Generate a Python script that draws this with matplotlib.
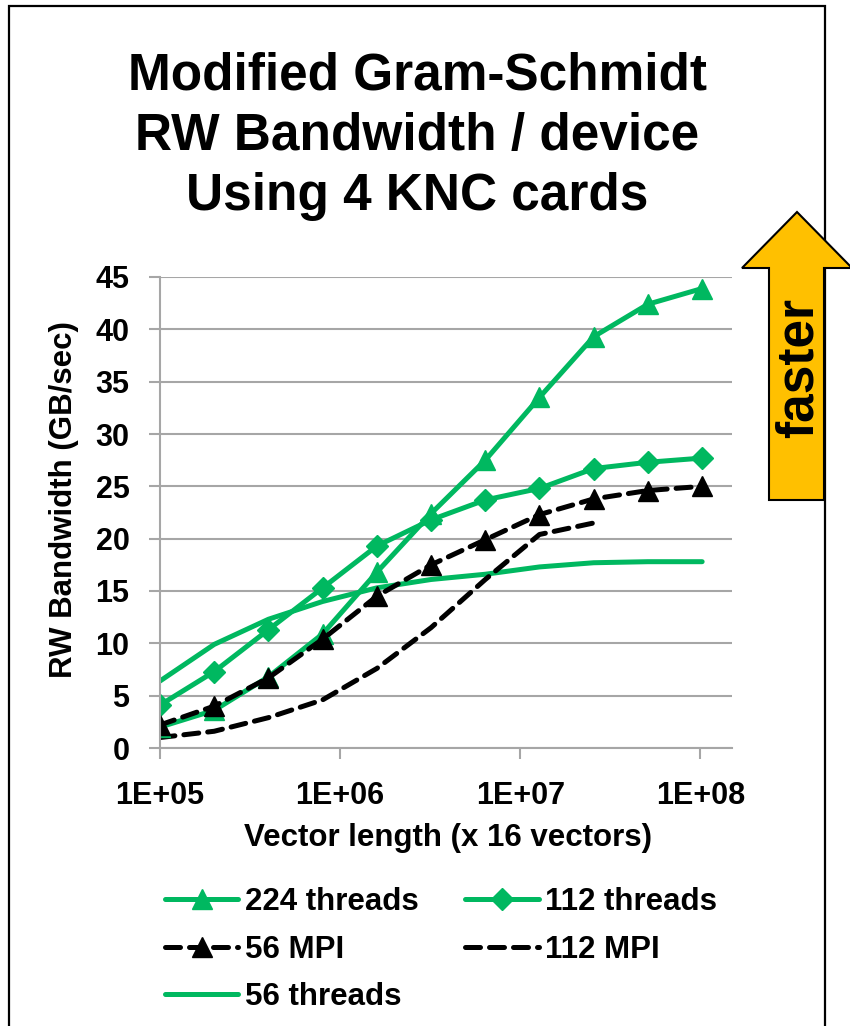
import numpy as np
import matplotlib
matplotlib.use("Agg")
import matplotlib.pyplot as plt
from matplotlib.patches import Polygon, Rectangle

plt.rcParams['font.family'] = ['Liberation Sans', 'DejaVu Sans']
plt.rcParams['font.weight'] = 'bold'

vecLength = [1e5, 2e5, 4e5, 8e5, 1.6e6, 3.2e6, 6.4e6, 1.28e7, 2.56e7, 5.12e7, 1.024e8]

threads224 = [2.0, 3.6, 6.8, 10.9, 16.8, 22.4, 27.5, 33.5, 39.3, 42.4, 43.9]
threads112 = [4.1, 7.3, 11.3, 15.3, 19.3, 21.8, 23.7, 24.8, 26.7, 27.3, 27.7]
mpi56 = [2.2, 4.0, 6.7, 10.4, 14.5, 17.5, 19.9, 22.3, 23.8, 24.6, 25.0]
mpi112 = [1.0, 1.6, 2.9, 4.6, 7.6, 11.5, 16.1, 20.4, 21.5]
threads56 = [6.4, 9.9, 12.3, 14.0, 15.3, 16.1, 16.6, 17.3, 17.7, 17.8, 17.8]

yTicks = [0, 5, 10, 15, 20, 25, 30, 35, 40, 45]
xTicks = [1e5, 1e6, 1e7, 1e8]
xTickLabels = ["1E+05", "1E+06", "1E+07", "1E+08"]

titleLines = ["Modified Gram-Schmidt", "RW Bandwidth / device", "Using 4 KNC cards"]

green = "#00B860"
W, H = 850, 1026

def fx(px):
    return px / W

def fy(py):
    return 1 - py / H

fig = plt.figure(figsize=(W / 100, H / 100), dpi=100)

# outer border
fig.patches.append(Rectangle((fx(9), -0.02), fx(825) - fx(9), fy(6) + 0.02,
                             transform=fig.transFigure, fill=False,
                             edgecolor="black", linewidth=1.6, zorder=1))

ax = fig.add_axes([fx(160), fy(748), fx(732) - fx(160), fy(277) - fy(748)])
ax.set_xscale("log")

dash = (0, (3.0, 1.8))
common = dict(linewidth=3.6, solid_capstyle="round", dash_capstyle="round")
l56t, = ax.plot(vecLength, threads56, color=green, label="56 threads", **common)
l112m, = ax.plot(vecLength[:len(mpi112)], mpi112, color="black",
                 linestyle=dash, label="112 MPI", **common)
l224, = ax.plot(vecLength, threads224, color=green, marker="^",
                markersize=14, label="224 threads", **common)
l112t, = ax.plot(vecLength, threads112, color=green, marker="D",
                 markersize=11, label="112 threads", **common)
l56m, = ax.plot(vecLength, mpi56, color="black", linestyle=dash,
                marker="^", markersize=14, label="56 MPI", **common)

ax.set_xlim(1e5, 1.5e8)
ax.set_ylim(0, 45)
ax.set_yticks(yTicks)
ax.set_xticks(xTicks)
ax.set_xticklabels(xTickLabels)
ax.minorticks_off()
ax.grid(axis="y", color="#a6a6a6", linewidth=1.5)
ax.set_axisbelow(True)
for side in ["top", "right"]:
    ax.spines[side].set_visible(False)
for side in ["left", "bottom"]:
    ax.spines[side].set_color("#a6a6a6")
    ax.spines[side].set_linewidth(1.5)
ax.tick_params(axis="both", colors="#a6a6a6", width=1.5, length=8, labelsize=22,
               labelcolor="black")
ax.tick_params(axis="y", pad=14)
ax.tick_params(axis="x", pad=16)
for lbl in ax.get_xticklabels() + ax.get_yticklabels():
    lbl.set_fontweight("bold")

fig.text(fx(64), fy(500), "RW Bandwidth (GB/sec)", rotation=90, ha="center",
         va="center", fontsize=22.5, fontweight="bold")
fig.text(fx(448), fy(846), "Vector length (x 16 vectors)", ha="center",
         va="baseline", fontsize=22.5, fontweight="bold")

for i, line in enumerate(titleLines):
    fig.text(fx(417), fy(90 + 60 * i), line, ha="center", va="baseline",
             fontsize=37, fontweight="bold")

leg = fig.legend(handles=[l224, l56m, l56t, l112t, l112m],
                 loc="upper left", bbox_to_anchor=(fx(165), fy(887)),
                 ncol=2, frameon=False, fontsize=22.5, handlelength=2.35,
                 handletextpad=0.2, columnspacing=1.5, labelspacing=0.56,
                 borderaxespad=0, borderpad=0)
for t in leg.get_texts():
    t.set_fontweight("bold")

# "faster" arrow
arrowPx = [(797, 212), (852, 268), (824, 268), (824, 500), (769, 500),
           (769, 268), (742, 268)]
fig.patches.append(Polygon([(fx(x), fy(y)) for x, y in arrowPx], closed=True,
                           transform=fig.transFigure, facecolor="#FFC000",
                           edgecolor="black", linewidth=1.5, zorder=3))
fig.text(fx(799), fy(368), "faster", rotation=90, ha="center", va="center",
         fontsize=37, fontweight="bold", zorder=4)

fig.savefig("out.png", dpi=100)
